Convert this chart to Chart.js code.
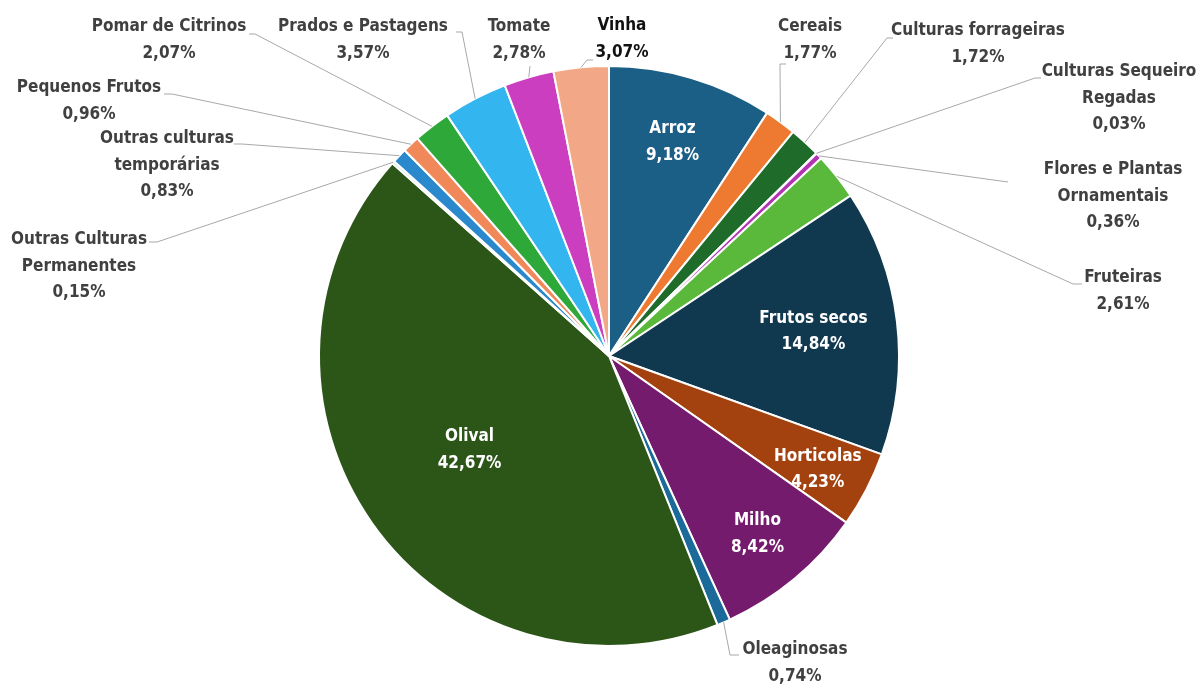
<!DOCTYPE html>
<html>
<head>
<meta charset="utf-8">
<script src="https://cdn.jsdelivr.net/npm/chart.js@4.4.0/dist/chart.umd.min.js"></script>
<style>
  html,body{margin:0;padding:0;background:#fff;}
  #wrap{width:1198px;height:686px;}
</style>
</head>
<body>
<div id="wrap"><canvas id="c" width="1198" height="686"></canvas></div>
<script>
// ---- data ----
const categories = ["Arroz","Cereais","Culturas forrageiras","Culturas Sequeiro Regadas","Flores e Plantas Ornamentais","Fruteiras","Frutos secos","Horticolas","Milho","Oleaginosas","Olival","Outras Culturas Permanentes","Outras culturas temporárias","Pequenos Frutos","Pomar de Citrinos","Prados e Pastagens","Tomate","Vinha"];
const values = [9.18,1.77,1.72,0.03,0.36,2.61,14.84,4.23,8.42,0.74,42.67,0.15,0.83,0.96,2.07,3.57,2.78,3.07];
const valueLabels = ["9,18%","1,77%","1,72%","0,03%","0,36%","2,61%","14,84%","4,23%","8,42%","0,74%","42,67%","0,15%","0,83%","0,96%","2,07%","3,57%","2,78%","3,07%"];
const colors = ["#1b5e86","#ee7a32","#1e6b2a","#d9d9d9","#b433b4","#5ab83a","#10384f","#a3420f","#741b6e","#1c6a9a","#2c5518","#b8e8e0","#2a88cc","#f0885a","#2fa83a","#33b5ef","#cc3ec0","#f2a886"];

// ---- label layout (text lines, anchor, leader elbows) ----
const labelLayout = [
  {inside:true, lines:["Arroz"], frac:0.77, angOff:0},
  {lines:["Cereais"], cx:810, y:27, pts:[[780,64],[786,64]]},
  {lines:["Culturas forrageiras"], cx:978, y:31, pts:[[887,38],[893,38]]},
  {lines:["Culturas Sequeiro","Regadas"], cx:1119, y:72, pts:[[1035,78],[1041,78]]},
  {lines:["Flores e Plantas","Ornamentais"], cx:1113, y:170, pts:[[1008,182]]},
  {lines:["Fruteiras"], cx:1123, y:278, pts:[[1073,284],[1082,284]]},
  {inside:true, lines:["Frutos secos"], frac:0.71, angOff:0},
  {inside:true, lines:["Horticolas"], frac:0.82, angOff:0.02},
  {inside:true, lines:["Milho"], frac:0.80, angOff:0},
  {lines:["Oleaginosas"], cx:795, y:650, pts:[[730,655],[739,655]]},
  {inside:true, lines:["Olival"], frac:0.58, angOff:0.02},
  {lines:["Outras Culturas","Permanentes"], cx:79, y:240, pts:[[157,242],[149,242]]},
  {lines:["Outras culturas","temporárias"], cx:167, y:139, pts:[[242,144],[234,144]]},
  {lines:["Pequenos Frutos"], cx:89, y:88, pts:[[172,94],[164,94]]},
  {lines:["Pomar de Citrinos"], cx:169, y:27, pts:[[255,34],[249,34]]},
  {lines:["Prados e Pastagens"], cx:363, y:27, pts:[[462,32],[456,32]]},
  {lines:["Tomate"], cx:519, y:27, pts:[[530,66]]},
  {lines:["Vinha"], cx:622, y:26, pts:[[587,60],[593,60]], color:"#111111"}
];

const FONT = "bold 17px 'DejaVu Sans Condensed', 'DejaVu Sans', sans-serif";
const LINE_H = 26.5;

const labelPlugin = {
  id:'pieLabels',
  afterDatasetsDraw(chart){
    const ctx = chart.ctx;
    const meta = chart.getDatasetMeta(0);
    ctx.save();
    ctx.font = FONT;
    ctx.textAlign = 'center';
    ctx.textBaseline = 'middle';
    meta.data.forEach((arc, i) => {
      const L = labelLayout[i];
      const mid = (arc.startAngle + arc.endAngle) / 2;
      const textLines = L.lines.concat([valueLabels[i]]);
      if (L.inside) {
        const a = mid + (L.angOff || 0);
        const r = arc.outerRadius * L.frac;
        const x = arc.x + Math.cos(a) * r;
        const y = arc.y + Math.sin(a) * r;
        ctx.fillStyle = '#ffffff';
        const y0 = y - (textLines.length - 1) * LINE_H / 2;
        textLines.forEach((t, k) => ctx.fillText(t, x, y0 + k * LINE_H));
      } else {
        const sx = arc.x + Math.cos(mid) * arc.outerRadius;
        const sy = arc.y + Math.sin(mid) * arc.outerRadius;
        ctx.strokeStyle = '#a8a8a8';
        ctx.lineWidth = 1;
        ctx.beginPath();
        ctx.moveTo(sx, sy);
        L.pts.forEach(p => ctx.lineTo(p[0], p[1]));
        ctx.stroke();
        ctx.fillStyle = L.color || '#404040';
        textLines.forEach((t, k) => ctx.fillText(t, L.cx, L.y + k * LINE_H));
      }
    });
    ctx.restore();
  }
};

new Chart(document.getElementById('c'), {
  type: 'pie',
  data: {
    labels: categories,
    datasets: [{
      data: values,
      backgroundColor: colors,
      borderColor: '#ffffff',
      borderWidth: 2,
      radius: 290
    }]
  },
  options: {
    responsive: false,
    animation: false,
    layout: { padding: { left: 20, right: 0, top: 26, bottom: 0 } },
    plugins: { legend: { display: false }, tooltip: { enabled: false } }
  },
  plugins: [labelPlugin]
});
</script>
</body>
</html>
